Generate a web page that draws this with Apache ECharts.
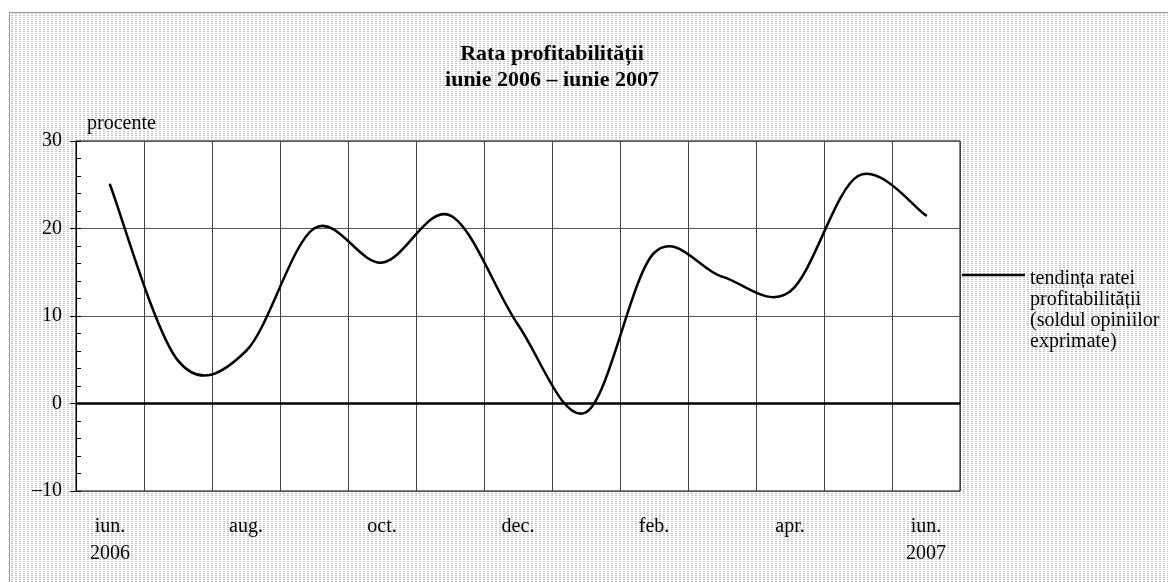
<!DOCTYPE html>
<html>
<head>
<meta charset="utf-8">
<script src="https://cdn.jsdelivr.net/npm/echarts@6/dist/echarts.min.js"></script>
<style>
  html, body { margin: 0; padding: 0; background: #fff; }
  #wrap { position: relative; width: 1168px; height: 582px; overflow: hidden; }
  #bg { position: absolute; left: 9px; top: 12px; right: -2px; bottom: -2px;
        border-left: 1px solid #9a9a9a; border-top: 1px solid #9a9a9a; }
  #main { position: absolute; left: 0; top: 0; width: 1168px; height: 582px; }
</style>
</head>
<body>
<div id="wrap">
  <div id="bg"></div>
  <div id="main"></div>
</div>
<script>
// luni iun. 2006 - iun. 2007
var months = ['iun.\n2006', 'iul.', 'aug.', 'sep.', 'oct.', 'nov.', 'dec.',
              'ian.', 'feb.', 'mar.', 'apr.', 'mai', 'iun.\n2007'];
// tendinta ratei profitabilitatii (sold, procente)
var profit = [25.0, 4.9, 6.0, 20.0, 16.1, 21.5, 9.0, -1.0, 17.2, 14.5, 12.8, 26.0, 21.5];
var yTicks = { min: -10, max: 30, step: 10 };

var serif = 'Liberation Serif, Times New Roman, serif';
var legendName = 'tendința ratei profitabilității (soldul opiniilor exprimate)';

// fundal punctat
(function () {
  var c = document.createElement('canvas');
  c.width = 4; c.height = 2;
  var ctx = c.getContext('2d');
  ctx.fillStyle = '#fff';
  ctx.fillRect(0, 0, 4, 2);
  ctx.fillStyle = '#c4c4c4';
  ctx.fillRect(1, 0, 2, 1);
  document.getElementById('bg').style.backgroundImage = 'url(' + c.toDataURL() + ')';
})();

var myChart = echarts.init(document.getElementById('main'));

// curba netezita ca in Excel (Catmull-Rom -> Bezier), cate un segment pe punct
function renderSegment(params, api) {
  var i = params.dataIndex;
  var n = profit.length;
  if (i >= n - 1) return null;
  var pt = function (k) {
    k = Math.max(0, Math.min(n - 1, k));
    return api.coord([api.value(0, k), api.value(1, k)]);
  };
  var p0 = pt(i - 1), p1 = pt(i), p2 = pt(i + 1), p3 = pt(i + 2);
  return {
    type: 'bezierCurve',
    shape: {
      x1: p1[0], y1: p1[1],
      x2: p2[0], y2: p2[1],
      cpx1: p1[0] + (p2[0] - p0[0]) / 6,
      cpy1: p1[1] + (p2[1] - p0[1]) / 6,
      cpx2: p2[0] - (p3[0] - p1[0]) / 6,
      cpy2: p2[1] - (p3[1] - p1[1]) / 6
    },
    style: { stroke: '#000', fill: null, lineWidth: 2.5, lineCap: 'round' }
  };
}

var option = {
  animation: false,
  backgroundColor: 'transparent',
  textStyle: { fontFamily: serif, color: '#000' },
  graphic: [{
    type: 'text',
    x: 552,
    y: 67.5,
    style: {
      text: 'Rata profitabilității\niunie 2006 – iunie 2007',
      font: 'bold 22px ' + serif,
      lineHeight: 26,
      fill: '#000',
      align: 'center',
      verticalAlign: 'middle'
    }
  }],
  grid: {
    left: 76, right: 208, top: 141, bottom: 91,
    show: true, backgroundColor: '#fff', borderColor: '#000', borderWidth: 1
  },
  legend: {
    left: 962,
    top: 198,
    padding: 0,
    selectedMode: false,
    itemWidth: 63,
    itemHeight: 2.5,
    icon: 'rect',
    data: [legendName],
    // primul rand de text aliniat cu linia din legenda
    formatter: function () {
      return '{g| }\n\n\n\ntendința ratei\nprofitabilității\n(soldul opiniilor\nexprimate)';
    },
    textStyle: {
      fontFamily: serif, fontSize: 20, lineHeight: 21, color: '#000',
      rich: { g: { fontSize: 1, lineHeight: 7 } }
    }
  },
  xAxis: {
    type: 'category',
    data: months,
    boundaryGap: true,
    axisLine: { lineStyle: { color: '#000', width: 1 } },
    axisTick: { show: false },
    axisLabel: {
      interval: 1,
      margin: 22,
      fontFamily: serif,
      fontSize: 20,
      lineHeight: 27,
      color: '#000'
    },
    splitLine: { show: true, interval: 0, lineStyle: { color: '#444', width: 1 } }
  },
  yAxis: [{
    type: 'value',
    min: yTicks.min,
    max: yTicks.max,
    interval: yTicks.step,
    name: 'procente',
    nameLocation: 'end',
    nameGap: 7,
    nameTextStyle: { fontFamily: serif, fontSize: 20, lineHeight: 20, color: '#000', align: 'left', padding: [0, 0, 0, 11] },
    axisLine: { show: true, lineStyle: { color: '#000', width: 1 } },
    axisTick: { show: true, length: 6, lineStyle: { color: '#000' } },
    axisLabel: {
      margin: 14,
      fontFamily: serif,
      fontSize: 20,
      color: '#000',
      formatter: function (v) { return v < 0 ? '–' + Math.abs(v) : String(v); }
    },
    splitLine: { show: true, lineStyle: { color: '#555', width: 1 } }
  }, {
    // gradatii mici, spre interior
    type: 'value',
    position: 'right',
    offset: -884,
    min: yTicks.min,
    max: yTicks.max,
    interval: 2,
    axisLine: { show: false },
    axisTick: { show: true, length: 5, lineStyle: { color: '#000' } },
    axisLabel: { show: false },
    splitLine: { show: false }
  }],
  series: [{
    name: legendName,
    type: 'custom',
    renderItem: renderSegment,
    encode: { x: 0, y: 1 },
    data: profit.map(function (v, i) { return [i, v]; }),
    itemStyle: { color: '#000' },
    markLine: {
      silent: true,
      symbol: ['none', 'none'],
      label: { show: false },
      lineStyle: { color: '#000', width: 2.5, type: 'solid' },
      data: [{ yAxis: 0 }]
    }
  }]
};

myChart.setOption(option);
</script>
</body>
</html>
